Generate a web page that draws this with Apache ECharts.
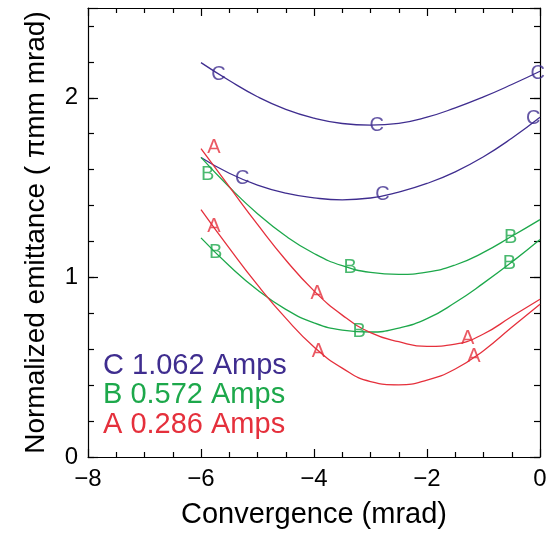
<!DOCTYPE html>
<html>
<head>
<meta charset="utf-8">
<script src="https://cdn.jsdelivr.net/npm/echarts@6/dist/echarts.min.js"></script>
<style>
html,body{margin:0;padding:0;background:#fff;}
#chart{width:552px;height:534px;}
</style>
</head>
<body>
<div id="chart"></div>
<script>
// Fit curves sampled along x (mrad)
const curveX = [-6, -5.5, -5, -4.5, -4, -3.5, -3, -2.5, -2, -1.5, -1, -0.5, 0];
const curveC1 = [2.196, 2.096, 2.006, 1.936, 1.887, 1.857, 1.848, 1.858, 1.892, 1.944, 2.005, 2.074, 2.148];
const curveC2 = [1.668, 1.580, 1.514, 1.469, 1.443, 1.432, 1.442, 1.475, 1.523, 1.588, 1.672, 1.775, 1.892];
const curveB1 = [1.668, 1.503, 1.355, 1.230, 1.133, 1.065, 1.028, 1.017, 1.029, 1.069, 1.139, 1.229, 1.322];
const curveB2 = [1.220, 1.065, 0.930, 0.822, 0.747, 0.707, 0.696, 0.718, 0.770, 0.860, 0.968, 1.085, 1.211];
const curveA1 = [1.717, 1.505, 1.295, 1.097, 0.925, 0.790, 0.693, 0.642, 0.616, 0.628, 0.685, 0.782, 0.878];
const curveA2 = [1.378, 1.163, 0.958, 0.773, 0.613, 0.495, 0.420, 0.402, 0.428, 0.490, 0.592, 0.722, 0.850];

// Measured points (letter markers)
const pointsC1 = [[-5.69, 2.132], [-2.89, 1.847], [-0.04, 2.133]];
const pointsC2 = [[-5.27, 1.549], [-2.79, 1.461], [-0.12, 1.883]];
const pointsB1 = [[-5.88, 1.572], [-3.36, 1.054], [-0.52, 1.223]];
const pointsB2 = [[-5.74, 1.137], [-3.20, 0.699], [-0.54, 1.075]];
const pointsA1 = [[-5.77, 1.725], [-3.945, 0.912], [-1.28, 0.660]];
const pointsA2 = [[-5.77, 1.281], [-3.92, 0.586], [-1.17, 0.558]];

const legendLabels = ['C 1.062 Amps', 'B 0.572 Amps', 'A 0.286 Amps'];
const xTitle = 'Convergence (mrad)';
const yTitle = 'Normalized emittance ( \u03C0mm mrad)';

const COL = { C: '#3f2d8f', B: '#1da84b', A: '#e5303c' };
const FONT = '"Liberation Sans", Arial, Helvetica, sans-serif';

function zip(xs, ys) { return xs.map((x, i) => [x, ys[i]]); }
function lineS(ys, c) {
  return { type: 'line', data: zip(curveX, ys), smooth: 0.5, showSymbol: false, symbol: 'none',
    xAxisIndex: 0, yAxisIndex: 0,
    lineStyle: { color: c, width: 1.3 }, itemStyle: { color: c }, silent: true, z: 2 };
}
function markS(pts, letter, c) {
  return { type: 'scatter', data: pts, symbolSize: 1, itemStyle: { color: 'rgba(0,0,0,0)' },
    xAxisIndex: 0, yAxisIndex: 0,
    label: { show: true, position: 'inside', formatter: letter, color: c, fontSize: 20, fontFamily: FONT },
    silent: true, z: 5 };
}

const fmtMinus = v => String(v).replace('-', '\u2212');
const isInt = v => Math.abs(v - Math.round(v)) < 1e-6;

const chart = echarts.init(document.getElementById('chart'));
const axisLine = { show: true, onZero: false, lineStyle: { color: '#000', width: 1.2 } };
const noLine = { show: false, onZero: false };
const tick = len => ({ show: true, inside: true, length: len, lineStyle: { color: '#000', width: 1.2 } });
const minor = len => ({ show: true, splitNumber: 4, length: len, lineStyle: { color: '#000', width: 1.2 } });
chart.setOption({
  animation: false,
  backgroundColor: '#fff',
  grid: { left: 88, right: 12, top: 8, bottom: 76 },
  xAxis: [
    { type: 'value', min: -8, max: 0, interval: 2, position: 'bottom',
      axisLine: axisLine, splitLine: { show: false },
      axisTick: tick(8), minorTick: minor(5),
      axisLabel: { fontSize: 24, color: '#000', fontFamily: FONT, margin: 10, formatter: fmtMinus },
      name: xTitle, nameLocation: 'middle', nameGap: 43,
      nameTextStyle: { fontSize: 29, color: '#000', fontFamily: FONT } },
    { type: 'value', min: -8, max: 0, interval: 2, position: 'top',
      axisLine: axisLine, splitLine: { show: false },
      axisTick: tick(8), minorTick: minor(5),
      axisLabel: { show: false } }
  ],
  yAxis: [
    { type: 'value', min: 0, max: 2.5, interval: 0.2, position: 'left',
      axisLine: axisLine, splitLine: { show: false },
      axisTick: tick(6),
      axisLabel: { fontSize: 24, color: '#000', fontFamily: FONT, margin: 10,
        formatter: v => (isInt(v) ? String(Math.round(v)) : ''), showMaxLabel: false },
      name: yTitle, nameLocation: 'middle', nameGap: 38, nameRotate: 90,
      nameTextStyle: { fontSize: 28, color: '#000', fontFamily: FONT } },
    { type: 'value', min: 0, max: 2.5, interval: 1, position: 'left', offset: 0,
      axisLine: noLine, splitLine: { show: false },
      axisTick: tick(10), axisLabel: { show: false } },
    { type: 'value', min: 0, max: 2.5, interval: 0.2, position: 'right', offset: 0,
      axisLine: axisLine, splitLine: { show: false },
      axisTick: tick(6), axisLabel: { show: false } },
    { type: 'value', min: 0, max: 2.5, interval: 1, position: 'right', offset: 0,
      axisLine: noLine, splitLine: { show: false },
      axisTick: tick(10), axisLabel: { show: false } }
  ],
  graphic: legendLabels.map((t, i) => ({
    type: 'text', left: 103, top: 351 + i * 29.5,
    style: { text: t, fill: [COL.C, COL.B, COL.A][i], fontSize: 29, fontFamily: FONT }
  })),
  series: [
    lineS(curveC1, COL.C), lineS(curveC2, COL.C),
    lineS(curveB1, COL.B), lineS(curveB2, COL.B),
    lineS(curveA1, COL.A), lineS(curveA2, COL.A),
    markS(pointsC1, 'C', COL.C), markS(pointsC2, 'C', COL.C),
    markS(pointsB1, 'B', COL.B), markS(pointsB2, 'B', COL.B),
    markS(pointsA1, 'A', COL.A), markS(pointsA2, 'A', COL.A)
  ]
});
</script>
</body>
</html>
